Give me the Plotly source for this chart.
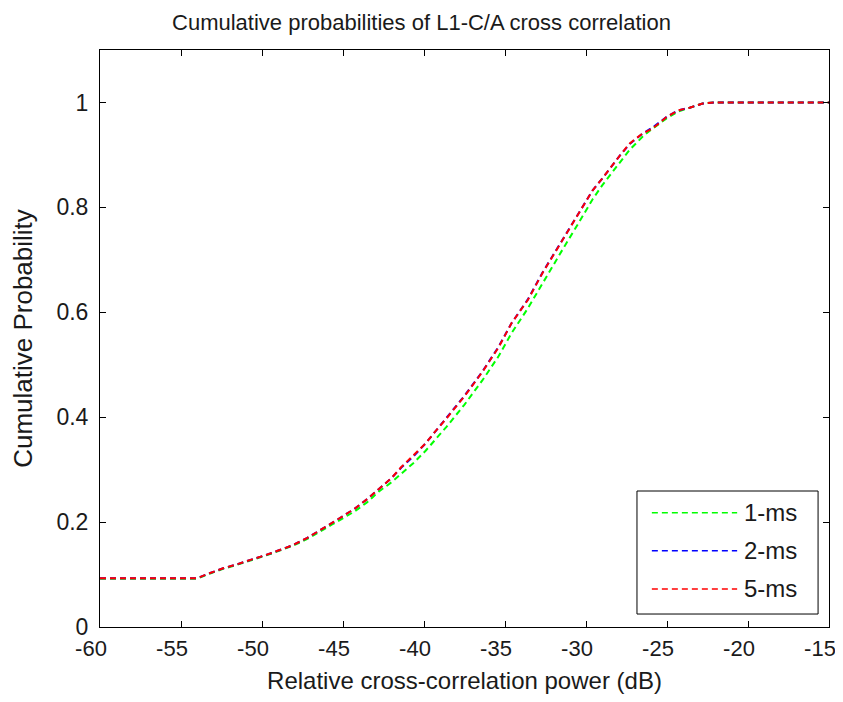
import plotly.graph_objects as go

# Relative cross-correlation power (dB)
x_db = [-60, -54, -53.2, -52.4, -51.7, -50.2, -49.5, -48.1, -47.2, -45.7, -45.0,
        -44.3, -43.5, -42.8, -42.0, -41.4, -40.6, -39.9, -39.3, -38.6, -37.5,
        -36.4, -35.4, -34.6, -33.6, -32.7, -31.4, -30.5, -29.6, -29.0, -28.5,
        -27.9, -27.3, -26.5, -25.9, -25.0, -24.3, -23.6, -22.8, -22.0, -15]

cdf_1ms = [0.092, 0.092, 0.102, 0.111, 0.117, 0.132, 0.139, 0.155, 0.168, 0.195, 0.207,
           0.220, 0.238, 0.258, 0.276, 0.293, 0.314, 0.336, 0.357, 0.382, 0.424,
           0.470, 0.516, 0.560, 0.607, 0.655, 0.722, 0.768, 0.815, 0.842, 0.862,
           0.888, 0.910, 0.935, 0.950, 0.970, 0.983, 0.990, 0.998, 1.000, 1.000]

cdf_2ms = [0.093, 0.093, 0.103, 0.112, 0.118, 0.133, 0.140, 0.156, 0.170, 0.198, 0.211,
           0.225, 0.244, 0.263, 0.284, 0.304, 0.327, 0.350, 0.373, 0.398, 0.441,
           0.487, 0.534, 0.579, 0.624, 0.675, 0.741, 0.786, 0.832, 0.855, 0.876,
           0.899, 0.921, 0.941, 0.952, 0.973, 0.985, 0.990, 0.998, 1.000, 1.000]

cdf_5ms = [0.093, 0.093, 0.103, 0.112, 0.118, 0.133, 0.140, 0.156, 0.170, 0.198, 0.211,
           0.225, 0.244, 0.263, 0.284, 0.305, 0.328, 0.350, 0.373, 0.398, 0.440,
           0.486, 0.533, 0.579, 0.623, 0.674, 0.740, 0.785, 0.832, 0.855, 0.876,
           0.899, 0.922, 0.941, 0.950, 0.973, 0.985, 0.990, 0.998, 1.000, 1.000]

series_names = ["1-ms", "2-ms", "5-ms"]
series_colors = ["#00ff00", "#0000ff", "#ff0000"]
x_ticks = [-60, -55, -50, -45, -40, -35, -30, -25, -20, -15]
x_tick_labels = ["-60", "-55", "-50", "-45", "-40", "-35", "-30", "-25", "-20", "-15"]
y_ticks = [0, 0.2, 0.4, 0.6, 0.8, 1]
y_tick_labels = ["0", "0.2", "0.4", "0.6", "0.8", "1"]

FONT = "Liberation Sans, Arial, sans-serif"
TXT = "#1a1a1a"
DASH = "6px,4px"

fig = go.Figure()
for name, ys, col in zip(series_names, [cdf_1ms, cdf_2ms, cdf_5ms], series_colors):
    fig.add_trace(go.Scatter(
        x=x_db, y=ys, mode="lines", name=name, showlegend=False,
        line=dict(color=col, width=2, dash=DASH),
    ))

axis_common = dict(
    showgrid=False, zeroline=False, showline=True, linecolor="black", linewidth=1,
    mirror="ticks", ticks="inside", ticklen=6, tickcolor="black", automargin=False,
    ticklabeloverflow="allow",
)

# legend drawn in paper coordinates (box, dashed samples, labels)
box = dict(x0=0.7366, x1=0.985, y0=0.0225, y1=0.2357)
row_y = [0.198, 0.132, 0.066]
shapes = [dict(type="rect", xref="paper", yref="paper", line=dict(color="black", width=1),
               fillcolor="white", layer="above", **box)]
annotations = []
for name, col, yy in zip(series_names, series_colors, row_y):
    shapes.append(dict(type="line", xref="paper", yref="paper", x0=0.757, x1=0.874,
                       y0=yy, y1=yy, layer="above",
                       line=dict(color=col, width=1.5, dash=DASH)))
    annotations.append(dict(text=name, xref="paper", yref="paper", x=0.880, y=yy,
                            xanchor="left", yanchor="middle", showarrow=False,
                            font=dict(family=FONT, size=24, color=TXT)))

fig.update_layout(
    width=843, height=686,
    margin=dict(l=92, r=22, t=42, b=67),
    paper_bgcolor="white", plot_bgcolor="white",
    font=dict(family=FONT, color=TXT),
    showlegend=False,
    title=dict(text="Cumulative probabilities of L1-C/A cross correlation",
               x=0.4905, xref="container", yref="container", y=0.99, yanchor="top",
               font=dict(family=FONT, size=22, color=TXT)),
    xaxis=dict(range=[-60, -15], tickvals=x_ticks, ticktext=x_tick_labels,
               ticklabelshift=-9, ticklabelstandoff=2,
               tickfont=dict(family=FONT, size=22, color=TXT),
               title=dict(text="Relative cross-correlation power (dB)",
                          font=dict(family=FONT, size=24, color=TXT), standoff=12),
               **axis_common),
    yaxis=dict(range=[0, 1.1], tickvals=y_ticks, ticktext=y_tick_labels,
               ticklabelstandoff=6,
               tickfont=dict(family=FONT, size=23, color=TXT),
               title=dict(text="Cumulative Probability",
                          font=dict(family=FONT, size=26, color=TXT), standoff=16),
               **axis_common),
    shapes=shapes,
    annotations=annotations,
)

fig.write_html("out.html")
